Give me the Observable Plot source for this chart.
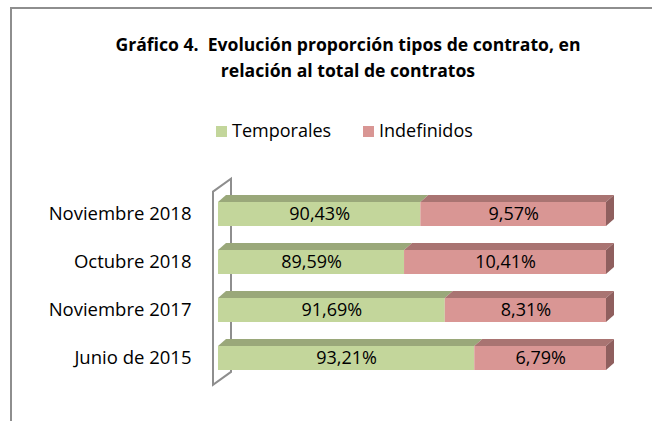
<!DOCTYPE html>
<html><head><meta charset="utf-8">
<script src="https://cdn.jsdelivr.net/npm/d3@7"></script>
<script src="https://cdn.jsdelivr.net/npm/@observablehq/plot@0.6"></script>
<style>
body{margin:0;background:#fff;}
#wrap{position:relative;width:652px;height:421px;overflow:hidden;font-family:"Open Sans",sans-serif;color:#000;}
#border{position:absolute;left:10px;top:7px;width:660px;height:430px;border-left:2px solid #8e8e8e;border-top:2px solid #8e8e8e;}
.tl{position:absolute;left:48px;width:600px;text-align:center;font-weight:bold;font-size:17.6px;white-space:pre;}
#legend{position:absolute;top:118px;left:0;width:652px;font-size:18px;}
.li{position:absolute;top:0;white-space:nowrap;}
.sw{display:inline-block;width:11px;height:11px;margin-right:5px;vertical-align:0px;}
#chart{position:absolute;left:0;top:0;}
</style></head>
<body><div id="wrap"><div id="border"></div>
<div class="tl" id="t1" style="top:32px">Gráfico 4.  Evolución proporción tipos de contrato, en</div>
<div class="tl" id="t2" style="top:58px">relación al total de contratos</div>
<div id="legend"></div>
<div id="chart"></div></div>
<script>
const categories = ["Noviembre 2018", "Octubre 2018", "Noviembre 2017", "Junio de 2015"];
const temporales = [90.43, 89.59, 91.69, 93.21];
const indefinidos = [9.57, 10.41, 8.31, 6.79];
const seriesNames = ["Temporales", "Indefinidos"];
const axisMin = 80, axisMax = 100;

const colors = {Temporales: {front: "#c3d69b", top: "#9aa87a", side: "#7f8c63"},
                Indefinidos: {front: "#d99694", top: "#a97472", side: "#8f5f5e"}};

const data = [];
categories.forEach((c, i) => {
  data.push({cat: c, serie: "Temporales", x1: 0, x2: temporales[i], v: temporales[i]});
  data.push({cat: c, serie: "Indefinidos", x1: temporales[i], x2: temporales[i] + indefinidos[i], v: indefinidos[i]});
});
const fmt = v => v.toFixed(2).replace(".", ",") + "%";
const DX = 8, DY = -7;

// legend
const leg = document.getElementById("legend");
const legX = [216, 363];
seriesNames.forEach((s, i) => {
  const d = document.createElement("div");
  d.className = "li"; d.style.left = legX[i] + "px";
  d.innerHTML = `<span class="sw" style="background:${colors[s].front}"></span>${s}`;
  leg.appendChild(d);
});

function wall(index, scales, values, dim, ctx) {
  const x0 = scales.x(axisMin);
  const y0 = dim.marginTop - 10, y1 = dim.height - dim.marginBottom + 1;
  const g = d3.create("svg:g");
  g.append("path")
    .attr("d", `M${x0 - 5},${y0 + 13}L${x0 + 13},${y0}L${x0 + 13},${y1 - 13}L${x0 - 5},${y1}Z`)
    .attr("fill", "#fff").attr("stroke", "#8e8e8e").attr("stroke-width", 2);
  return g.node();
}

function box3d(index, scales, values, dim, ctx) {
  const g = d3.create("svg:g");
  const bw = scales.y.bandwidth();
  for (const i of index) {
    const d = data[i];
    const xa = scales.x(Math.max(axisMin, d.x1)), xb = scales.x(Math.min(axisMax, d.x2));
    const yt = scales.y(d.cat), yb = yt + bw;
    const c = colors[d.serie];
    g.append("path").attr("d", `M${xa},${yt}L${xb},${yt}L${xb + DX},${yt + DY}L${xa + DX},${yt + DY}Z`).attr("fill", c.top);
    if (d.serie === "Indefinidos")
      g.append("path").attr("d", `M${xb},${yt}L${xb + DX},${yt + DY}L${xb + DX},${yb + DY}L${xb},${yb}Z`).attr("fill", c.side);
  }
  return g.node();
}

const plot = Plot.plot({
  width: 652, height: 421,
  marginLeft: 218, marginRight: 46, marginTop: 188.6, marginBottom: 37.1,
  style: {background: "transparent", fontFamily: "'Open Sans', sans-serif"},
  x: {domain: [axisMin, axisMax], axis: null},
  y: {domain: categories, paddingInner: 0.5, paddingOuter: 0.25, label: null},
  marks: [
    Plot.frame({stroke: "none", render: wall}),
    Plot.barX(data, {x1: d => Math.max(axisMin, d.x1), x2: "x2", y: "cat", fill: d => colors[d.serie].front, clip: true}),
    Plot.barX(data, {x1: "x1", x2: "x2", y: "cat", fill: "none", render: box3d}),
    Plot.text(data, {x: d => (Math.max(axisMin, d.x1) + d.x2) / 2, y: "cat", text: d => fmt(d.v), fontSize: 18, fill: "#000"}),
    Plot.axisY({tickSize: 0, tickPadding: 27, fontSize: 18.5, fill: "#000", label: null})
  ]
});
document.getElementById("chart").appendChild(plot);
</script></body></html>
